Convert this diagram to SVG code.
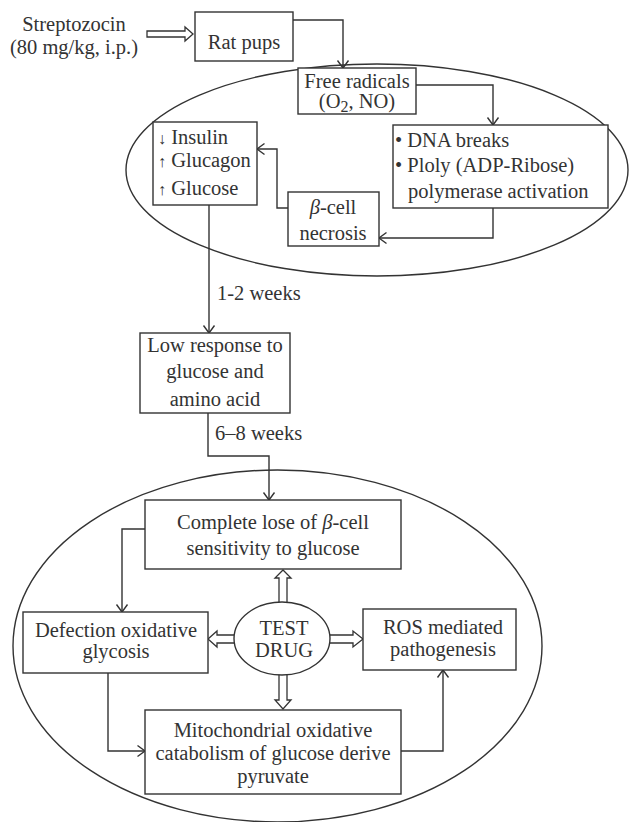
<svg xmlns="http://www.w3.org/2000/svg" width="629" height="822" viewBox="0 0 629 822">
<style>
text{font-family:"Liberation Serif","Times New Roman",serif;font-size:20.5px;fill:#333}
.c{text-anchor:middle}
.box{fill:#fff;stroke:#333;stroke-width:1.4}
.oval{fill:none;stroke:#333;stroke-width:1.4}
.ln{fill:none;stroke:#333;stroke-width:1.4;marker-end:url(#ah)}
.blk{fill:#fff;stroke:#333;stroke-width:1.3;stroke-linejoin:miter}
.it{font-style:italic}
.sm{font-size:16px}
</style>
<defs>
<marker id="ah" markerUnits="userSpaceOnUse" markerWidth="14" markerHeight="14" viewBox="0 0 14 14" refX="9" refY="7" orient="auto">
<path d="M1.5,1.5 L9,7 L1.5,12.5" fill="none" stroke="#333" stroke-width="1.4"/>
</marker>
</defs>
<rect width="629" height="822" fill="#fff"/>
<g id="ellipse-top"><ellipse class="oval" cx="377" cy="170" rx="251" ry="106"/></g>
<g id="ellipse-bottom"><ellipse class="oval" cx="277.5" cy="646" rx="264.5" ry="176"/></g>
<g id="connectors">
<path class="ln" d="M293,20 H343 V68"/>
<path class="ln" d="M416,85 H493 V125"/>
<path class="ln" d="M493,208 V238 H379"/>
<path class="ln" d="M288,208 H277 V149 H257"/>
<path class="ln" d="M209,205 V333"/>
<path class="ln" d="M208,413 V456 H269 V500"/>
<path class="ln" d="M145,529 H122 V612"/>
<path class="ln" d="M108,673 V751 H145"/>
<path class="ln" d="M401,751 H443 V670"/>
<polygon class="blk" points="147,31 185,31 185,27 193,34 185,41 185,37 147,37"/>
<polygon class="blk" points="279,604 279,578 275,578 283,570 291,578 287,578 287,604"/>
<polygon class="blk" points="279,672 279,700 275,700 283,709 291,700 287,700 287,672"/>
<polygon class="blk" points="237,635 217,635 217,631 208,639 217,647 217,643 237,643"/>
<polygon class="blk" points="327,635 353,635 353,631 363,639 353,647 353,643 327,643"/>
<text x="217" y="300">1-2 weeks</text>
<text x="215" y="440">6–8 weeks</text>
</g>
<g id="streptozocin">
<text class="c" x="74" y="31">Streptozocin</text>
<text class="c" x="74" y="54">(80 mg/kg, i.p.)</text>
</g>
<g id="rat-pups">
<rect class="box" x="195" y="12" width="98" height="49"/>
<text class="c" x="244" y="49">Rat pups</text>
</g>
<g id="free-radicals">
<rect class="box" x="298" y="68" width="118" height="46"/>
<text class="c" x="357" y="88">Free radicals</text>
<text class="c" x="357" y="108">(O<tspan class="sm" dy="4">2</tspan><tspan dy="-4">, NO)</tspan></text>
</g>
<g id="dna">
<rect class="box" x="393" y="125" width="215" height="83"/>
<text x="395" y="147">• DNA breaks</text>
<text x="395" y="172">• Ploly (ADP-Ribose)</text>
<text x="408" y="198">polymerase activation</text>
</g>
<g id="insulin">
<rect class="box" x="153" y="122" width="104" height="83"/>
<text x="158" y="144"><tspan class="sm">↓</tspan> Insulin</text>
<text x="158" y="167"><tspan class="sm">↑</tspan> Glucagon</text>
<text x="158" y="195"><tspan class="sm">↑</tspan> Glucose</text>
</g>
<g id="necrosis">
<rect class="box" x="288" y="192" width="91" height="54"/>
<text class="c" x="333" y="214"><tspan class="it">β</tspan>-cell</text>
<text class="c" x="333" y="240">necrosis</text>
</g>
<g id="low-response">
<rect class="box" x="140" y="333" width="150" height="80"/>
<text class="c" x="215" y="352">Low response to</text>
<text class="c" x="215" y="378">glucose and</text>
<text class="c" x="215" y="406">amino acid</text>
</g>
<g id="complete-lose">
<rect class="box" x="145" y="500" width="256" height="69"/>
<text class="c" x="273" y="529">Complete lose of <tspan class="it">β</tspan>-cell</text>
<text class="c" x="273" y="555">sensitivity to glucose</text>
</g>
<g id="defection">
<rect class="box" x="23" y="612" width="185" height="61"/>
<text class="c" x="116" y="637">Defection oxidative</text>
<text class="c" x="116" y="658">glycosis</text>
</g>
<g id="test-drug">
<ellipse class="box" cx="282" cy="638.5" rx="48" ry="36.5"/>
<text class="c" x="284" y="635">TEST</text>
<text class="c" x="284" y="657">DRUG</text>
</g>
<g id="ros">
<rect class="box" x="363" y="609" width="153" height="61"/>
<text class="c" x="443" y="634">ROS mediated</text>
<text class="c" x="443" y="656">pathogenesis</text>
</g>
<g id="mitochondrial">
<rect class="box" x="145" y="710" width="256" height="84"/>
<text class="c" x="273" y="737">Mitochondrial oxidative</text>
<text class="c" x="273" y="760">catabolism of glucose derive</text>
<text class="c" x="273" y="783">pyruvate</text>
</g>
</svg>
